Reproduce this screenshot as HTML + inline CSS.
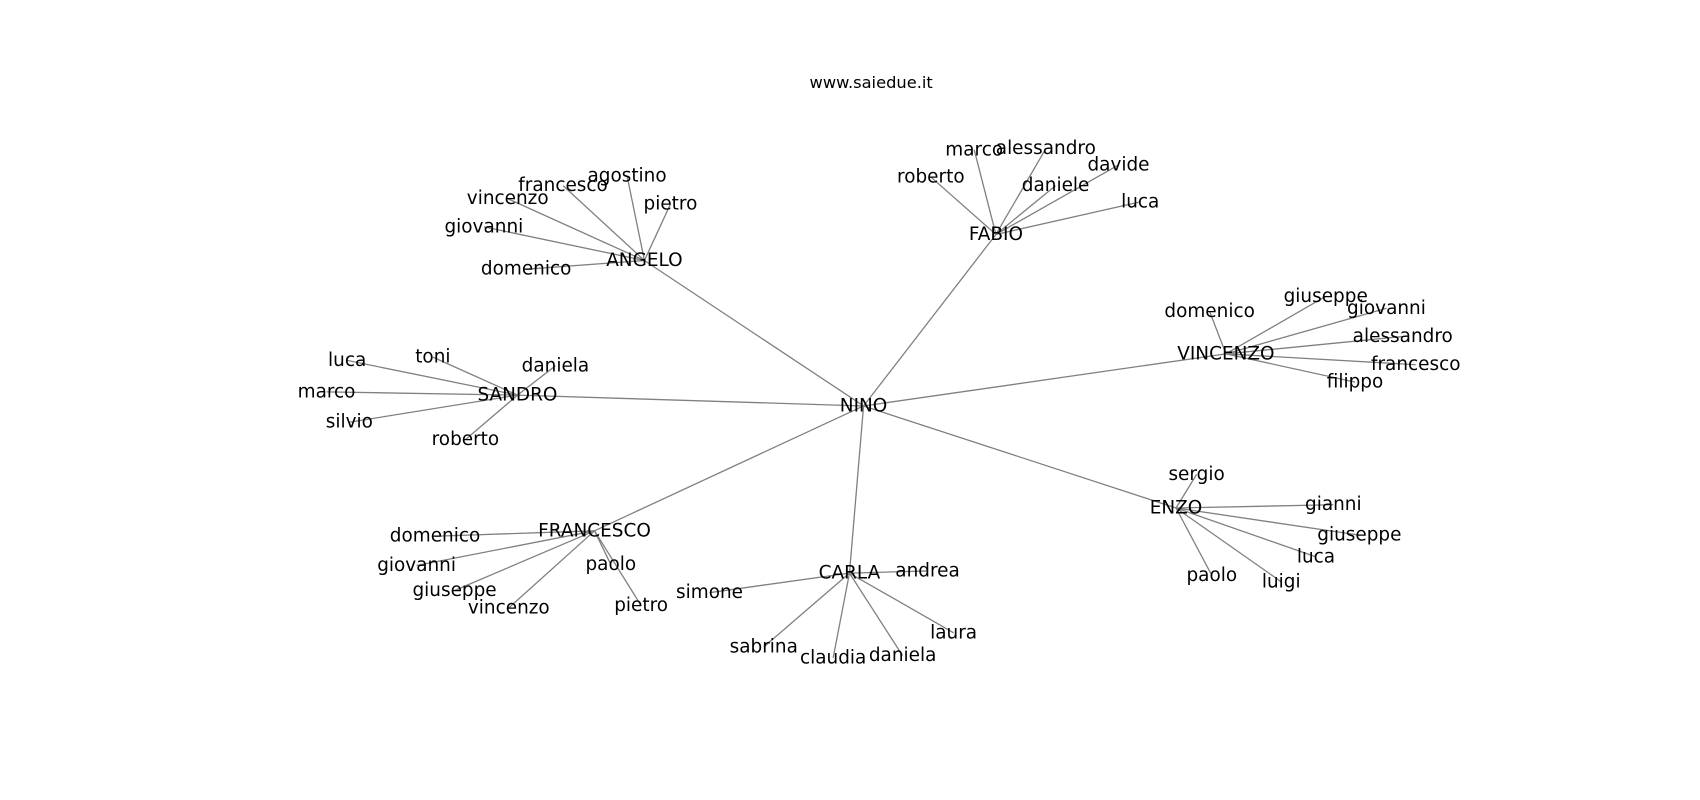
<!DOCTYPE html>
<html><head><meta charset="utf-8"><style>
html,body{margin:0;padding:0;background:#fff;}
svg{display:block;}
text{font-family:"DejaVu Sans","Liberation Sans",sans-serif;font-size:17px;fill:#000;text-anchor:middle;dominant-baseline:central;}
line{stroke:#808080;stroke-width:1.2;}
</style></head><body>
<svg width="1700" height="800" viewBox="0 0 1567 737" preserveAspectRatio="none" xmlns="http://www.w3.org/2000/svg">
<text x="803" y="76" style="font-size:15px">www.saiedue.it</text>
<g>
<line x1="796" y1="374" x2="594" y2="240"/>
<line x1="796" y1="374" x2="918" y2="216"/>
<line x1="796" y1="374" x2="1130" y2="326"/>
<line x1="796" y1="374" x2="477" y2="364"/>
<line x1="796" y1="374" x2="548" y2="489"/>
<line x1="796" y1="374" x2="783" y2="528"/>
<line x1="796" y1="374" x2="1084" y2="468"/>
<line x1="594" y1="240" x2="578" y2="162"/>
<line x1="594" y1="240" x2="519" y2="171"/>
<line x1="594" y1="240" x2="618" y2="188"/>
<line x1="594" y1="240" x2="468" y2="183"/>
<line x1="594" y1="240" x2="446" y2="209"/>
<line x1="594" y1="240" x2="485" y2="248"/>
<line x1="918" y1="216" x2="858" y2="163"/>
<line x1="918" y1="216" x2="898" y2="138"/>
<line x1="918" y1="216" x2="964" y2="137"/>
<line x1="918" y1="216" x2="1031" y2="152"/>
<line x1="918" y1="216" x2="973" y2="171"/>
<line x1="918" y1="216" x2="1051" y2="186"/>
<line x1="1130" y1="326" x2="1115" y2="287"/>
<line x1="1130" y1="326" x2="1222" y2="273"/>
<line x1="1130" y1="326" x2="1278" y2="284"/>
<line x1="1130" y1="326" x2="1293" y2="310"/>
<line x1="1130" y1="326" x2="1305" y2="336"/>
<line x1="1130" y1="326" x2="1249" y2="352"/>
<line x1="477" y1="364" x2="320" y2="332"/>
<line x1="477" y1="364" x2="399" y2="329"/>
<line x1="477" y1="364" x2="512" y2="337"/>
<line x1="477" y1="364" x2="301" y2="361"/>
<line x1="477" y1="364" x2="322" y2="389"/>
<line x1="477" y1="364" x2="429" y2="405"/>
<line x1="548" y1="489" x2="401" y2="494"/>
<line x1="548" y1="489" x2="384" y2="521"/>
<line x1="548" y1="489" x2="419" y2="544"/>
<line x1="548" y1="489" x2="469" y2="560"/>
<line x1="548" y1="489" x2="563" y2="520"/>
<line x1="548" y1="489" x2="591" y2="558"/>
<line x1="783" y1="528" x2="855" y2="526"/>
<line x1="783" y1="528" x2="654" y2="546"/>
<line x1="783" y1="528" x2="704" y2="596"/>
<line x1="783" y1="528" x2="768" y2="606"/>
<line x1="783" y1="528" x2="832" y2="604"/>
<line x1="783" y1="528" x2="879" y2="583"/>
<line x1="1084" y1="468" x2="1103" y2="437"/>
<line x1="1084" y1="468" x2="1229" y2="465"/>
<line x1="1084" y1="468" x2="1253" y2="493"/>
<line x1="1084" y1="468" x2="1213" y2="513"/>
<line x1="1084" y1="468" x2="1117" y2="530"/>
<line x1="1084" y1="468" x2="1181" y2="536"/>
</g>
<g>
<text x="796" y="374">NINO</text>
<text x="594" y="240">ANGELO</text>
<text x="578" y="162">agostino</text>
<text x="519" y="171">francesco</text>
<text x="618" y="188">pietro</text>
<text x="468" y="183">vincenzo</text>
<text x="446" y="209">giovanni</text>
<text x="485" y="248">domenico</text>
<text x="918" y="216">FABIO</text>
<text x="858" y="163">roberto</text>
<text x="898" y="138">marco</text>
<text x="964" y="137">alessandro</text>
<text x="1031" y="152">davide</text>
<text x="973" y="171">daniele</text>
<text x="1051" y="186">luca</text>
<text x="1130" y="326">VINCENZO</text>
<text x="1115" y="287">domenico</text>
<text x="1222" y="273">giuseppe</text>
<text x="1278" y="284">giovanni</text>
<text x="1293" y="310">alessandro</text>
<text x="1305" y="336">francesco</text>
<text x="1249" y="352">filippo</text>
<text x="477" y="364">SANDRO</text>
<text x="320" y="332">luca</text>
<text x="399" y="329">toni</text>
<text x="512" y="337">daniela</text>
<text x="301" y="361">marco</text>
<text x="322" y="389">silvio</text>
<text x="429" y="405">roberto</text>
<text x="548" y="489">FRANCESCO</text>
<text x="401" y="494">domenico</text>
<text x="384" y="521">giovanni</text>
<text x="419" y="544">giuseppe</text>
<text x="469" y="560">vincenzo</text>
<text x="563" y="520">paolo</text>
<text x="591" y="558">pietro</text>
<text x="783" y="528">CARLA</text>
<text x="855" y="526">andrea</text>
<text x="654" y="546">simone</text>
<text x="704" y="596">sabrina</text>
<text x="768" y="606">claudia</text>
<text x="832" y="604">daniela</text>
<text x="879" y="583">laura</text>
<text x="1084" y="468">ENZO</text>
<text x="1103" y="437">sergio</text>
<text x="1229" y="465">gianni</text>
<text x="1253" y="493">giuseppe</text>
<text x="1213" y="513">luca</text>
<text x="1117" y="530">paolo</text>
<text x="1181" y="536">luigi</text>
</g>
</svg>
</body></html>
